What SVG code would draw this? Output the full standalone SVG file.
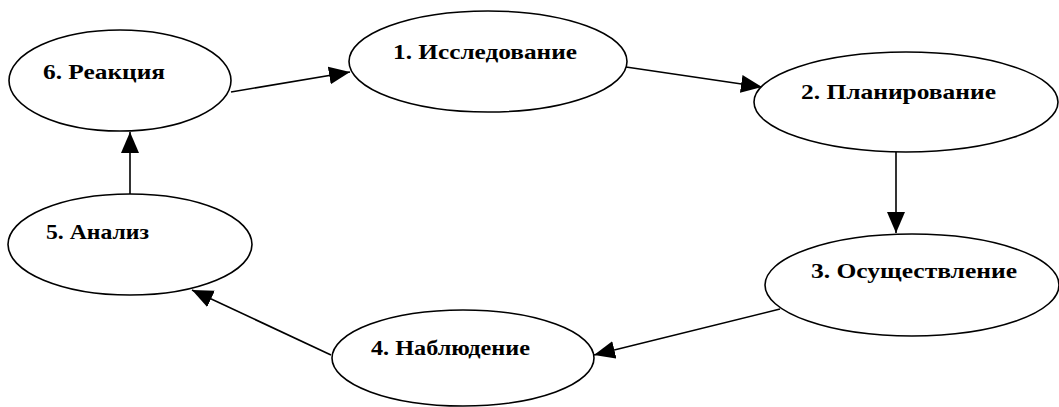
<svg xmlns="http://www.w3.org/2000/svg" width="1059" height="407" viewBox="0 0 1059 407">
<style>
.node ellipse{fill:#fff;stroke:#000;stroke-width:1.6}
.node text{font-family:'Liberation Serif','DejaVu Serif',serif;font-weight:700;font-size:22px;fill:#000}
.edge{stroke:#000;stroke-width:1.6;fill:none;marker-end:url(#ah)}
</style>
<defs>
<marker id="ah" markerUnits="userSpaceOnUse" markerWidth="21" markerHeight="19" refX="21" refY="9" orient="auto">
<path d="M0,0 L21,9 L0,18 z" fill="#000"/>
</marker>
</defs>
<g id="connectors">
<path class="edge" d="M231,92 L350,72"/>
<path class="edge" d="M626,67 L762,87"/>
<path class="edge" d="M896,152 L896,233"/>
<path class="edge" d="M780,309 L594,355"/>
<path class="edge" d="M331,355 L192,290"/>
<path class="edge" d="M130,194 L130,132"/>
</g>
<g id="n6" class="node"><ellipse cx="120" cy="80.5" rx="111" ry="50.5"/><text x="43" y="79" textLength="122" lengthAdjust="spacingAndGlyphs">6. Реакция</text></g>
<g id="n1" class="node"><ellipse cx="488" cy="61.5" rx="139" ry="50.5"/><text x="393" y="59" textLength="184" lengthAdjust="spacingAndGlyphs">1. Исследование</text></g>
<g id="n2" class="node"><ellipse cx="906" cy="102" rx="152" ry="50"/><text x="801" y="99" textLength="195" lengthAdjust="spacingAndGlyphs">2. Планирование</text></g>
<g id="n3" class="node"><ellipse cx="912" cy="285" rx="147" ry="51"/><text x="811" y="278" textLength="206" lengthAdjust="spacingAndGlyphs">3. Осуществление</text></g>
<g id="n4" class="node"><ellipse cx="463" cy="358" rx="131" ry="48"/><text x="371" y="355" textLength="159" lengthAdjust="spacingAndGlyphs">4. Наблюдение</text></g>
<g id="n5" class="node"><ellipse cx="130" cy="244.5" rx="122" ry="50.5"/><text x="46" y="239" textLength="103" lengthAdjust="spacingAndGlyphs">5. Анализ</text></g>
</svg>
